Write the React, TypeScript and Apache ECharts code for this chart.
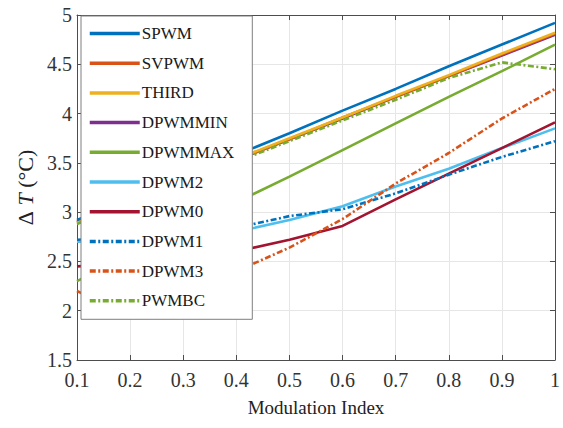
import React, { useEffect, useRef } from "react";
import * as echarts from "echarts";

const modulationIndex = [0.1, 0.2, 0.3, 0.4, 0.5, 0.6, 0.7, 0.8, 0.9, 1.0];

const spwm = [2.92, 3.14, 3.36, 3.58, 3.80, 4.03, 4.25, 4.48, 4.70, 4.92];
const svpwm = [2.90, 3.11, 3.32, 3.53, 3.74, 3.96, 4.17, 4.38, 4.60, 4.81];
const third = [2.89, 3.10, 3.31, 3.54, 3.75, 3.96, 4.18, 4.39, 4.61, 4.82];
const dpwmmin = [2.90, 3.11, 3.32, 3.53, 3.74, 3.95, 4.17, 4.38, 4.59, 4.80];
const dpwmmax = [2.30, 2.57, 2.83, 3.10, 3.36, 3.63, 3.90, 4.17, 4.43, 4.70];
const dpwm2 = [2.70, 2.70, 2.74, 2.80, 2.92, 3.06, 3.26, 3.44, 3.65, 3.85];
const dpwm0 = [2.45, 2.48, 2.53, 2.60, 2.72, 2.86, 3.13, 3.39, 3.65, 3.91];
const dpwm1 = [2.72, 2.74, 2.78, 2.84, 2.96, 3.03, 3.19, 3.38, 3.56, 3.72];
const dpwm3 = [2.20, 1.94, 2.05, 2.40, 2.64, 2.93, 3.29, 3.60, 3.95, 4.25];
const pwmbc = [2.88, 3.09, 3.30, 3.51, 3.72, 3.93, 4.14, 4.36, 4.52, 4.45];

const seriesNames = ["SPWM", "SVPWM", "THIRD", "DPWMMIN", "DPWMMAX", "DPWM2", "DPWM0", "DPWM1", "DPWM3", "PWMBC"];
const seriesValues = [spwm, svpwm, third, dpwmmin, dpwmmax, dpwm2, dpwm0, dpwm1, dpwm3, pwmbc];
const seriesColors = ["#0072BD", "#D95319", "#EDB120", "#7E2F8E", "#77AC30", "#4DBEEE", "#A2142F", "#0072BD", "#D95319", "#77AC30"];
const seriesDashed = [false, false, false, false, false, false, false, true, true, true];
const seriesZ = [3, 2, 3, 1, 3, 3, 3, 3, 3, 4];

const xTicks = { min: 0.1, max: 1, interval: 0.1 };
const yTicks = { min: 1.5, max: 5, interval: 0.5 };

const FONT = "Liberation Serif";

export default function App() {
  const ref = useRef<HTMLDivElement>(null);

  useEffect(() => {
    if (!ref.current) return;
    const chart = echarts.init(ref.current, undefined, { renderer: "svg" });
    const fmt = (v: number) => String(Math.round(v * 10) / 10);
    const axisLineStyle = { color: "#4d4d4d", width: 1 };

    const series = seriesNames.map((name, i) => ({
      name,
      type: "line",
      data: modulationIndex.map((x, j) => [x, seriesValues[i][j]]),
      showSymbol: false,
      symbol: "none",
      z: seriesZ[i],
      lineStyle: {
        color: seriesColors[i],
        width: 2.6,
        type: seriesDashed[i] ? [6, 2.5, 2, 2.5] : "solid",
      },
      itemStyle: { color: seriesColors[i] },
    }));

    chart.setOption({
      animation: false,
      backgroundColor: "#fff",
      textStyle: { fontFamily: FONT },
      grid: { left: 77, right: 4, top: 15, bottom: 68, containLabel: false },
      legend: {
        data: seriesNames,
        orient: "vertical",
        left: 81,
        top: 16,
        itemWidth: 50,
        itemHeight: 14,
        itemGap: 12.7,
        padding: [9, 18, 10, 7],
        backgroundColor: "#fff",
        borderColor: "#7f7f7f",
        borderWidth: 1,
        borderRadius: 0,
        itemStyle: { opacity: 0 },
        lineStyle: { width: 3.5 },
        textStyle: { fontFamily: FONT, fontSize: 17, color: "#1a1a1a", padding: [0, 0, 0, -3] },
        z: 10,
      },
      xAxis: [
        {
          type: "value",
          min: xTicks.min,
          max: xTicks.max,
          interval: xTicks.interval,
          name: "Modulation Index",
          nameLocation: "middle",
          nameGap: 38,
          nameTextStyle: { fontFamily: FONT, fontSize: 19, color: "#222" },
          axisLine: { lineStyle: axisLineStyle },
          axisTick: { inside: true, length: 5, lineStyle: axisLineStyle },
          axisLabel: { fontFamily: FONT, fontSize: 20, color: "#333", margin: 10, formatter: fmt },
          splitLine: { show: true, lineStyle: { color: "#e6e6e6", width: 1 } },
        },
        {
          type: "value",
          position: "top",
          min: xTicks.min,
          max: xTicks.max,
          interval: xTicks.interval,
          axisLine: { lineStyle: axisLineStyle },
          axisTick: { inside: true, length: 5, lineStyle: axisLineStyle },
          axisLabel: { show: false },
          splitLine: { show: false },
        },
      ],
      yAxis: [
        {
          type: "value",
          min: yTicks.min,
          max: yTicks.max,
          interval: yTicks.interval,
          name: "{d|Δ}{t| T}{d| (°C)}",
          nameLocation: "middle",
          nameRotate: 90,
          nameGap: 32,
          nameTextStyle: {
            rich: {
              d: { fontFamily: FONT, fontSize: 22, color: "#222" },
              t: { fontFamily: FONT, fontSize: 22, color: "#222", fontStyle: "italic" },
            },
          },
          axisLine: { show: true, lineStyle: axisLineStyle },
          axisTick: { show: true, inside: true, length: 5, lineStyle: axisLineStyle },
          axisLabel: { fontFamily: FONT, fontSize: 20, color: "#333", margin: 5, formatter: fmt },
          splitLine: { show: true, lineStyle: { color: "#e6e6e6", width: 1 } },
        },
        {
          type: "value",
          position: "right",
          min: yTicks.min,
          max: yTicks.max,
          interval: yTicks.interval,
          axisLine: { show: true, lineStyle: axisLineStyle },
          axisTick: { show: true, inside: true, length: 5, lineStyle: axisLineStyle },
          axisLabel: { show: false },
          splitLine: { show: false },
        },
      ],
      series,
    });

    return () => chart.dispose();
  }, []);

  return <div ref={ref} style={{ width: 563, height: 428, position: "absolute", left: 0, top: 0 }} />;
}
